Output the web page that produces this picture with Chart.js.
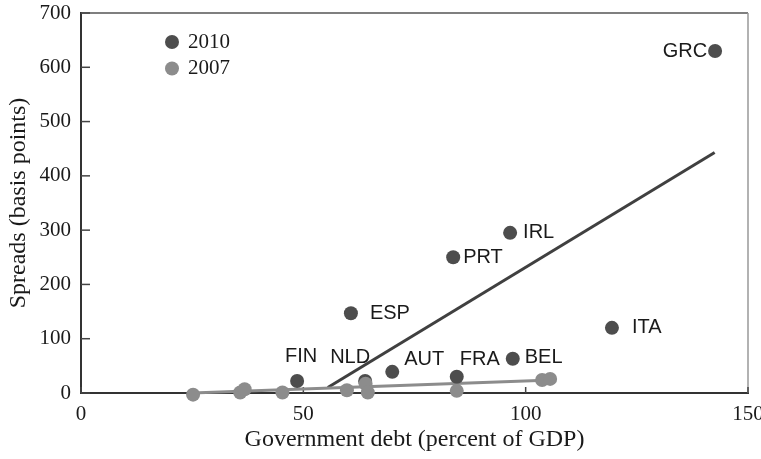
<!DOCTYPE html>
<html><head><meta charset="utf-8">
<script src="https://cdn.jsdelivr.net/npm/chart.js@4"></script>
<style>html,body{margin:0;padding:0;background:#fff}</style>
</head><body>
<canvas id="c" width="761" height="459"></canvas>
<script>
// ---- data ----
const seriesNames = ['2010', '2007'];
const countries2010 = ['GRC', 'IRL', 'PRT', 'ESP', 'ITA', 'BEL', 'FRA', 'AUT', 'NLD', 'FIN'];
const debt2010   = [142.6, 96.5, 83.7, 60.7, 119.4, 97.1, 84.5, 70.0, 63.9, 48.6];
const spread2010 = [630, 295, 250, 147, 120, 63, 30, 39, 22, 22];
const debt2007   = [25.2, 35.8, 36.8, 45.3, 59.8, 64.0, 64.5, 84.5, 103.7, 105.5];
const spread2007 = [-3, 1, 7, 1, 5, 17, 1, 4, 24, 26];
const fit2010Debt   = [55.5, 142.5];
const fit2010Spread = [10, 443];
const fit2007Debt   = [25, 106];
const fit2007Spread = [0, 24];
const xTicks = [0, 50, 100, 150];
const yTicks = [0, 100, 200, 300, 400, 500, 600, 700];
const xTitle = 'Government debt (percent of GDP)';
const yTitle = 'Spreads (basis points)';

// ---- styles ----
const DARK = '#4d4d4d', GRAY = '#8c8c8c';
const SERIF = '"Liberation Serif", "Times New Roman", serif';
const SANS = '"Liberation Sans", Arial, sans-serif';
const labelPlacement = {
  GRC: {dx: -8, dy: 0, align: 'right'},
  IRL: {dx: 13, dy: 0, align: 'left'},
  PRT: {dx: 10, dy: 0, align: 'left'},
  ESP: {dx: 19, dy: 0, align: 'left'},
  ITA: {dx: 20, dy: 0, align: 'left'},
  BEL: {dx: 12, dy: -1, align: 'left'},
  FRA: {dx: 23, dy: -17, align: 'center'},
  AUT: {dx: 32, dy: -12, align: 'center'},
  NLD: {dx: -15, dy: -24, align: 'center'},
  FIN: {dx: 4, dy: -25, align: 'center'}
};

const zip = (xs, ys) => xs.map((x, i) => ({x: x, y: ys[i]}));

const decor = {
  id: 'decor',
  beforeDatasetsDraw(chart) {
    const {ctx, chartArea: a, scales: {x, y}} = chart;
    ctx.save();
    ctx.lineWidth = 1.5;
    ctx.strokeStyle = '#555';
    ctx.beginPath(); ctx.moveTo(a.left, a.top); ctx.lineTo(a.right, a.top); ctx.stroke();
    ctx.strokeStyle = '#999';
    ctx.beginPath(); ctx.moveTo(a.right, a.top); ctx.lineTo(a.right, a.bottom); ctx.stroke();
    ctx.strokeStyle = '#444';
    y.ticks.forEach(t => {
      const py = y.getPixelForValue(t.value);
      ctx.beginPath(); ctx.moveTo(a.left, py); ctx.lineTo(a.left + 9, py); ctx.stroke();
    });
    x.ticks.forEach(t => {
      const px = x.getPixelForValue(t.value);
      ctx.beginPath(); ctx.moveTo(px, a.bottom); ctx.lineTo(px, a.bottom - 6); ctx.stroke();
    });
    ctx.restore();
  },
  afterDatasetsDraw(chart) {
    const {ctx, chartArea: a, scales: {x, y}} = chart;
    ctx.save();
    ctx.font = '20px ' + SANS;
    ctx.fillStyle = '#1a1a1a';
    ctx.textBaseline = 'middle';
    countries2010.forEach((c, i) => {
      const p = labelPlacement[c];
      ctx.textAlign = p.align;
      ctx.fillText(c, x.getPixelForValue(debt2010[i]) + p.dx, y.getPixelForValue(spread2010[i]) + p.dy);
    });
    const colors = [DARK, GRAY];
    ctx.font = '21px ' + SERIF;
    ctx.textAlign = 'left';
    seriesNames.forEach((s, i) => {
      const cy = a.top + 29 + i * 26.5;
      const cx = a.left + 91;
      ctx.fillStyle = colors[i];
      ctx.beginPath(); ctx.arc(cx, cy, 7, 0, Math.PI * 2); ctx.fill();
      ctx.fillStyle = '#1a1a1a';
      ctx.fillText(s, cx + 16, cy);
    });
    ctx.restore();
  }
};

new Chart(document.getElementById('c'), {
  type: 'scatter',
  data: {
    datasets: [
      {label: seriesNames[1], data: zip(debt2007, spread2007), backgroundColor: GRAY, borderWidth: 0, pointRadius: 7, clip: false},
      {label: seriesNames[0], data: zip(debt2010, spread2010), backgroundColor: DARK, borderWidth: 0, pointRadius: 7, clip: false},
      {type: 'line', label: 'fit2007', data: zip(fit2007Debt, fit2007Spread), borderColor: GRAY, borderWidth: 3, pointRadius: 0, fill: false, clip: false},
      {type: 'line', label: 'fit2010', data: zip(fit2010Debt, fit2010Spread), borderColor: '#404040', borderWidth: 3, pointRadius: 0, fill: false}
    ]
  },
  options: {
    responsive: false,
    animation: false,
    devicePixelRatio: 1,
    layout: {padding: {left: 0, top: 13, right: 13, bottom: 0}},
    plugins: {legend: {display: false}, tooltip: {enabled: false}},
    scales: {
      x: {
        type: 'linear', min: 0, max: 150,
        afterBuildTicks: s => { s.ticks = xTicks.map(v => ({value: v})); },
        afterFit: s => { s.height = 66; s.paddingLeft = 0; s.paddingRight = 0; },
        grid: {display: false},
        border: {display: true, color: '#333', width: 2},
        ticks: {color: '#1a1a1a', font: {family: SERIF, size: 21}, padding: 1, maxRotation: 0},
        title: {display: true, text: xTitle, color: '#1a1a1a', font: {family: SERIF, size: 24}, padding: {top: 0, bottom: 4.6}}
      },
      y: {
        type: 'linear', min: 0, max: 700,
        afterBuildTicks: s => { s.ticks = yTicks.map(v => ({value: v})); },
        afterFit: s => { s.width = 81; s.paddingTop = 0; s.paddingBottom = 0; },
        grid: {display: false},
        border: {display: true, color: '#333', width: 2},
        ticks: {color: '#1a1a1a', font: {family: SERIF, size: 21}, padding: 2},
        title: {display: true, text: yTitle, color: '#1a1a1a', font: {family: SERIF, size: 24}, padding: {top: 4.6, bottom: 0}}
      }
    }
  },
  plugins: [decor]
});
</script>
</body></html>
